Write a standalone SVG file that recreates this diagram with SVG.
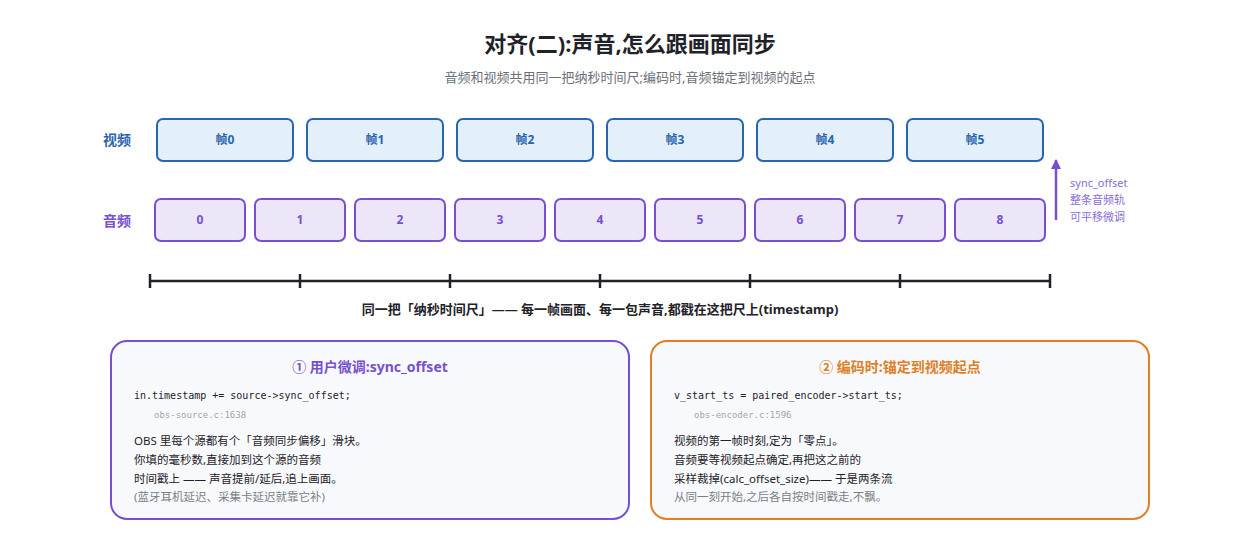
<svg xmlns="http://www.w3.org/2000/svg" width="1260" height="560" viewBox="0 0 1260 560">
<style>
text{font-family:"Noto Sans","Noto Sans CJK SC",sans-serif}
.v rect{fill:#e3effb;stroke:#2a66ad;stroke-width:2}
.v text{fill:#2a66ad;font-size:12px;font-weight:bold;text-anchor:middle}
.a rect{fill:#ece6f8;stroke:#7650d0;stroke-width:2}
.a text{fill:#7650d0;font-size:12px;font-weight:bold;text-anchor:middle}
.code{font-family:"DejaVu Sans Mono",monospace;font-size:10px;fill:#1f2329}
.ref{font-family:"DejaVu Sans Mono",monospace;font-size:9px;fill:#a0a6ad}
.body{font-size:11.5px;fill:#1f2329}
.note{font-size:11.5px;fill:#7a7f86}
</style>
<defs><marker id="ah" viewBox="0 0 10 10" refX="9" refY="5" markerWidth="4" markerHeight="4" orient="auto"><path d="M0,0L10,5L0,10z" fill="#7650d0"/></marker></defs>
<rect width="1260" height="560" fill="#fff"/>
<text x="630" y="52" font-size="22" font-weight="bold" text-anchor="middle" fill="#1f2329">对齐(二):声音,怎么跟画面同步</text>
<text x="630" y="82" font-size="13" text-anchor="middle" fill="#6b7078">音频和视频共用同一把纳秒时间尺;编码时,音频锚定到视频的起点</text>
<text x="117" y="145" font-size="14" font-weight="bold" text-anchor="middle" fill="#2a66ad">视频</text>
<text x="117" y="226" font-size="14" font-weight="bold" text-anchor="middle" fill="#7650d0">音频</text>
<g id="v0" class="v"><rect x="157" y="119" width="136" height="42" rx="6"/><text x="225" y="144">帧0</text></g>
<g id="v1" class="v"><rect x="307" y="119" width="136" height="42" rx="6"/><text x="375" y="144">帧1</text></g>
<g id="v2" class="v"><rect x="457" y="119" width="136" height="42" rx="6"/><text x="525" y="144">帧2</text></g>
<g id="v3" class="v"><rect x="607" y="119" width="136" height="42" rx="6"/><text x="675" y="144">帧3</text></g>
<g id="v4" class="v"><rect x="757" y="119" width="136" height="42" rx="6"/><text x="825" y="144">帧4</text></g>
<g id="v5" class="v"><rect x="907" y="119" width="136" height="42" rx="6"/><text x="975" y="144">帧5</text></g>
<g id="a0" class="a"><rect x="155" y="199" width="90" height="42" rx="6"/><text x="200" y="224">0</text></g>
<g id="a1" class="a"><rect x="255" y="199" width="90" height="42" rx="6"/><text x="300" y="224">1</text></g>
<g id="a2" class="a"><rect x="355" y="199" width="90" height="42" rx="6"/><text x="400" y="224">2</text></g>
<g id="a3" class="a"><rect x="455" y="199" width="90" height="42" rx="6"/><text x="500" y="224">3</text></g>
<g id="a4" class="a"><rect x="555" y="199" width="90" height="42" rx="6"/><text x="600" y="224">4</text></g>
<g id="a5" class="a"><rect x="655" y="199" width="90" height="42" rx="6"/><text x="700" y="224">5</text></g>
<g id="a6" class="a"><rect x="755" y="199" width="90" height="42" rx="6"/><text x="800" y="224">6</text></g>
<g id="a7" class="a"><rect x="855" y="199" width="90" height="42" rx="6"/><text x="900" y="224">7</text></g>
<g id="a8" class="a"><rect x="955" y="199" width="90" height="42" rx="6"/><text x="1000" y="224">8</text></g>
<g id="connectors">
<line x1="1056" y1="220" x2="1056" y2="160" stroke="#7650d0" stroke-width="2.5" marker-end="url(#ah)"/>
</g>
<text x="1070" y="187" font-size="11" fill="#8a6cd8">sync_offset</text>
<text x="1070" y="204" font-size="11" fill="#8a6cd8">整条音频轨</text>
<text x="1070" y="221" font-size="11" fill="#8a6cd8">可平移微调</text>
<g id="axis" stroke="#1f2329" stroke-width="2.5">
<line x1="150" y1="281" x2="1050" y2="281"/>
<line x1="150" y1="274" x2="150" y2="288"/><line x1="300" y1="274" x2="300" y2="288"/><line x1="450" y1="274" x2="450" y2="288"/><line x1="600" y1="274" x2="600" y2="288"/><line x1="750" y1="274" x2="750" y2="288"/><line x1="900" y1="274" x2="900" y2="288"/><line x1="1050" y1="274" x2="1050" y2="288"/>
</g>
<text x="600" y="314" font-size="13" font-weight="bold" text-anchor="middle" fill="#1f2329">同一把「纳秒时间尺」—— 每一帧画面、每一包声音,都戳在这把尺上(timestamp)</text>
<g id="card1">
<rect x="111" y="341" width="518" height="178" rx="16" fill="#f8f9fc" stroke="#7650d0" stroke-width="2"/>
<text x="370" y="372" font-size="14" font-weight="bold" text-anchor="middle" fill="#7650d0">① 用户微调:sync_offset</text>
<text x="134" y="399" class="code">in.timestamp += source-&gt;sync_offset;</text>
<text x="154" y="418" class="ref">obs-source.c:1638</text>
<text x="134" y="445" class="body">OBS 里每个源都有个「音频同步偏移」滑块。</text>
<text x="134" y="464" class="body">你填的毫秒数,直接加到这个源的音频</text>
<text x="134" y="483" class="body">时间戳上 —— 声音提前/延后,追上画面。</text>
<text x="134" y="501" class="note">(蓝牙耳机延迟、采集卡延迟就靠它补)</text>
</g>
<g id="card2">
<rect x="651" y="341" width="498" height="178" rx="16" fill="#f8f9fc" stroke="#e07f26" stroke-width="2"/>
<text x="900" y="372" font-size="14" font-weight="bold" text-anchor="middle" fill="#e07f26">② 编码时:锚定到视频起点</text>
<text x="674" y="399" class="code">v_start_ts = paired_encoder-&gt;start_ts;</text>
<text x="694" y="418" class="ref">obs-encoder.c:1596</text>
<text x="674" y="445" class="body">视频的第一帧时刻,定为「零点」。</text>
<text x="674" y="464" class="body">音频要等视频起点确定,再把这之前的</text>
<text x="674" y="483" class="body">采样裁掉(calc_offset_size)—— 于是两条流</text>
<text x="674" y="501" class="note">从同一刻开始,之后各自按时间戳走,不飘。</text>
</g>
</svg>
